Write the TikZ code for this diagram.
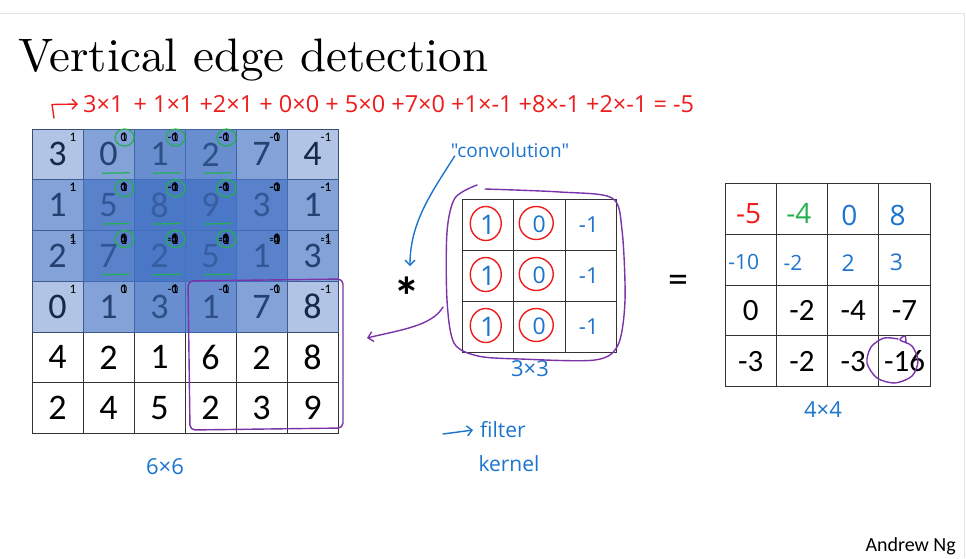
\documentclass[tikz,border=0pt]{standalone}
\usepackage{fontspec}
\setmainfont{Carlito}
\newfontfamily\titlefont{lmroman10-regular}[Extension=.otf]
\newfontfamily\hand{Open Sans}
\usetikzlibrary{arrows.meta}
\definecolor{boxblue}{HTML}{4472C4}
\definecolor{hblue}{HTML}{1C74CC}
\definecolor{hred}{HTML}{EE1C1C}
\definecolor{hgreen}{HTML}{22B14C}
\definecolor{hpurple}{HTML}{7A33A8}
\definecolor{framegray}{HTML}{E3E3E3}
\definecolor{gridline}{HTML}{333333}
\tikzset{
  incell/.style={draw=gridline, line width=1pt, minimum width=51pt, minimum height=50.75pt, inner sep=0pt, font=\fontsize{36}{36}\selectfont},
  fcell/.style={draw=gridline, line width=1pt, minimum width=51.5pt, minimum height=51pt, inner sep=0pt},
  ocell/.style={draw=gridline, line width=1pt, minimum width=51.3pt, minimum height=50.85pt, inner sep=0pt, font=\fontsize{31}{31}\selectfont},
  sup/.style={font=\fontsize{13}{13}\selectfont, inner sep=0pt, anchor=east},
  handtxt/.style={font=\hand\fontsize{20}{20}\selectfont, inner sep=0pt},
  hstroke/.style={line width=1.4pt, line cap=round, line join=round},
  barb/.style={-{Straight Barb[length=5pt,width=10pt]}},
}
\begin{document}
\begin{tikzpicture}[x=1pt,y=-1pt]
\useasboundingbox (0,0) rectangle (966,558);
\draw[framegray, line width=1.2pt] (0,13.5) -- (964.5,13.5) -- (964.5,558);

% title
\node[anchor=base west, font=\titlefont\fontsize{47}{50}\selectfont, inner sep=0pt] (title) at (18,71.7) {Vertical edge detection};

% red calculation
\node[handtxt, text=hred, anchor=west, font=\hand\fontsize{23.5}{23.5}\selectfont] (calc) at (83,104) {3×1 \,+ 1×1 +2×1 + 0×0 + 5×0 +7×0 +1×-1 +8×-1 +2×-1 = -5};
\draw[hred, hstroke, barb] (54,118) -- (52,104.5) -- ([xshift=-5pt]calc.west);

% input grid
\foreach \r/\vals in {0/{3,0,1,2,7,4},1/{1,5,8,9,3,1},2/{2,7,2,5,1,3},3/{0,1,3,1,7,8},4/{4,2,1,6,2,8},5/{2,4,5,2,3,9}}{
  \foreach \v [count=\c from 0] in \vals {
    \node[incell] (a-\r-\c) at ({57.5+51*\c},{154.375+50.75*\r}) {\v};
  }
}
% translucent windows
\foreach \r in {0,1}{
  \foreach \c in {0,...,3}{
    \pgfmathtruncatemacro\rr{\r+2}
    \pgfmathtruncatemacro\cc{\c+2}
    \fill[boxblue, opacity=0.42] (a-\r-\c.north west) rectangle (a-\rr-\cc.south east);
  }
}
% faint digits visible through the fills
\foreach \r/\vals in {0/{3,0,1,2,7,4},1/{1,5,8,9,3,1},2/{2,7,2,5,1,3},3/{0,1,3,1,7,8}}{
  \foreach \v [count=\c from 0] in \vals {
    \node[font=\fontsize{36}{36}\selectfont, inner sep=0pt, text=black, opacity=0.13] at (a-\r-\c) {\v};
  }
}
% filter superscripts
\foreach \r in {0,1}{
  \foreach \c in {0,...,3}{
    \foreach \k/\f in {0/1,1/0,2/-1}{
      \foreach \i in {0,1,2}{
        \pgfmathtruncatemacro\ri{\r+\i}
        \pgfmathtruncatemacro\cj{\c+\k}
        \pgfmathsetmacro\dy{(\r==0 && \i==2) ? 10.5 : 8.5}
        \node[sup] at ([shift={(-7,\dy)}]a-\ri-\cj.north east) {\f};
      }
    }
  }
}
% green marks
\foreach \i in {0,1,2}{
  \foreach \j in {1,2,3}{
    \draw[hgreen, line width=1.2pt] ([shift={(-10,9)}]a-\i-\j.north east) ellipse [x radius=9.5, y radius=8.5];
    \draw[hgreen, line width=1.2pt, line cap=round] ([shift={(20,-7)}]a-\i-\j.south west) -- ([shift={(47,-7.5)}]a-\i-\j.south west);
  }
}
% purple box round bottom-right window
\draw[hpurple, hstroke, rounded corners=5pt] (188,281) -- (343,279) -- (343,428) -- (190,430) -- cycle;

\node[handtxt, text=hblue, font=\hand\fontsize{22}{22}\selectfont] (six) at (165,467) {6×6};

% convolution star
\node[font=\fontsize{54}{54}\selectfont\bfseries, inner sep=0pt] (star) at (406.5,296) {*};
\coordinate (cend) at (410,266);

% filter
\foreach \i in {0,1,2}{
  \node[fcell] (f-\i-0) at ({462+25.75},{199+25.5+51*\i}) {};
  \node[fcell] (f-\i-1) at ({462+25.75+51.5},{199+25.5+51*\i}) {};
  \node[fcell] (f-\i-2) at ({462+25.75+103},{199+25.5+51*\i}) {};
  \node[handtxt, text=hblue, font=\hand\fontsize{27}{27}\selectfont] at (f-\i-0) {1};
  \node[handtxt, text=hblue, font=\hand\fontsize{23}{23}\selectfont] at (f-\i-1) {0};
  \node[handtxt, text=hblue, font=\hand\fontsize{22}{22}\selectfont] at ([xshift=-2pt]f-\i-2) {-1};
  \draw[hred, line width=1.4pt] ([xshift=-2pt,yshift=1pt]f-\i-0.center) ellipse [x radius=15.5, y radius=17];
  \draw[hred, line width=1.4pt] ([xshift=-3pt,yshift=1.5pt]f-\i-1.center) ellipse [x radius=17, y radius=16.5];
}
\node[handtxt, text=hblue, font=\hand\fontsize{22}{22}\selectfont] (three) at (530,369) {3×3};
\draw[hpurple, hstroke] plot[smooth] coordinates {(485,189) (560,192) (612,198) (622,230) (625,300) (618,345) (595,360) (520,359) (478,356) (454,343) (447,300) (447,232) (455,198) (477,185)};
\coordinate (pstart) at (443,307);
\coordinate (pend) at (367,338);
\draw[hpurple, hstroke, barb] (pstart) .. controls (432,326) and (400,330) .. (pend);

% convolution label and arrow
\node[handtxt, text=hblue, font=\hand\fontsize{19}{19}\selectfont] (conv) at (510,150) {"convolution"};
\draw[hblue, hstroke, barb] ([shift={(4,6)}]conv.west) .. controls (432,192) and (410,222) .. (cend);

% filter / kernel
\node[handtxt, text=hblue, anchor=west, font=\hand\fontsize{21}{21}\selectfont] (filt) at (480,430) {filter};
\node[handtxt, text=hblue, font=\hand\fontsize{21}{21}\selectfont] (kern) at (509,464) {kernel};
\coordinate (fa) at (443,434);
\draw[hblue, hstroke, barb] (fa) -- ([xshift=-7pt]filt.west);

% equals
\node[font=\fontsize{40}{40}\selectfont, inner sep=0pt] (eq) at (678,284) {=};

% output grid
\foreach \r/\vals in {2/{0,-2,-4,-7},3/{-3,-2,-3,-16}}{
  \foreach \v [count=\c from 0] in \vals {
    \node[ocell] (o-\r-\c) at ({725+25.65+51.3*\c},{183.3+25.425+50.85*\r}) {\v};
  }
}
\foreach \r in {0,1}{
  \foreach \c in {0,...,3}{
    \node[ocell] (o-\r-\c) at ({725+25.65+51.3*\c},{183.3+25.425+50.85*\r}) {};
  }
}
\node[handtxt, text=hred, font=\hand\fontsize{28}{28}\selectfont] at ([shift={(-2,5)}]o-0-0) {-5};
\node[handtxt, text=hgreen, font=\hand\fontsize{28}{28}\selectfont] at ([shift={(-3,5)}]o-0-1) {-4};
\node[handtxt, text=hblue, font=\hand\fontsize{28}{28}\selectfont] at ([shift={(-4,7)}]o-0-2) {0};
\node[handtxt, text=hblue, font=\hand\fontsize{28}{28}\selectfont] at ([shift={(-7,7)}]o-0-3) {8};
\node[handtxt, text=hblue, font=\hand\fontsize{21}{21}\selectfont] at ([shift={(-7,2)}]o-1-0) {-10};
\node[handtxt, text=hblue, font=\hand\fontsize{21}{21}\selectfont] at ([shift={(-9,3)}]o-1-1) {-2};
\node[handtxt, text=hblue, font=\hand\fontsize{23}{23}\selectfont] at ([shift={(-5,4)}]o-1-2) {2};
\node[handtxt, text=hblue, font=\hand\fontsize{23}{23}\selectfont] at ([shift={(-8,3)}]o-1-3) {3};
\draw[hpurple, hstroke] plot[smooth] coordinates {(898,339) (884,338) (871,347) (867,363) (877,378) (895,383) (912,376) (918,361) (912,346) (900,340) (905,336) (906,343)};
\node[handtxt, text=hblue, font=\hand\fontsize{22}{22}\selectfont] (four) at (823,410) {4×4};

\node[font=\fontsize{20}{20}\selectfont, anchor=base east, inner sep=0pt] (ng) at (956,551) {Andrew Ng};
\end{tikzpicture}
\end{document}
